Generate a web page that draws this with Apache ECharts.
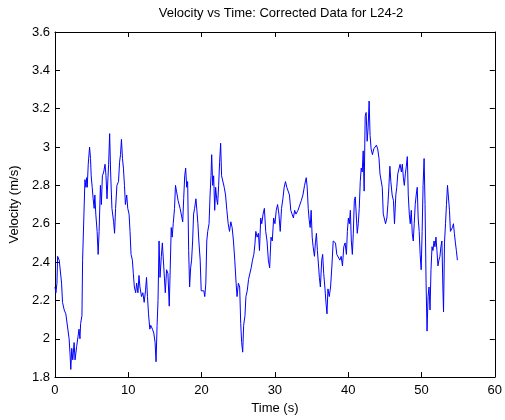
<!DOCTYPE html>
<html>
<head>
<meta charset="utf-8">
<script src="https://cdn.jsdelivr.net/npm/echarts@6/dist/echarts.min.js"></script>
<style>
  html, body { margin: 0; padding: 0; background: #fff; }
  #chart { width: 505px; height: 420px; }
</style>
</head>
<body>
<div id="chart"></div>
<script>
// time (s) and corrected velocity (m/s)
var timeS = [
  0.00, 0.13, 0.27, 0.36, 0.58, 0.81, 0.90, 1.03, 1.17, 1.26, 1.48, 1.71, 1.93, 2.07, 2.16, 2.29, 2.43, 2.61, 2.74, 2.96,
  3.14, 3.28, 3.41, 3.50, 3.68, 3.77, 3.95, 4.09, 4.22, 4.31, 4.40, 4.54, 4.72, 4.85, 4.94, 5.08, 5.21, 5.35, 5.44, 5.57,
  5.75, 5.89, 6.02, 6.20, 6.33, 6.47, 6.65, 6.83, 6.96, 7.10, 7.23, 7.32, 7.46, 7.59, 7.77, 8.00, 8.13, 8.27, 8.45, 8.67,
  8.81, 8.94, 9.07, 9.21, 9.34, 9.48, 9.61, 9.79, 9.93, 10.11, 10.24, 10.38, 10.56, 10.69, 10.83, 11.01, 11.14, 11.32, 11.46, 11.59,
  11.81, 11.99, 12.17, 12.35, 12.49, 12.62, 12.76, 12.94, 13.07, 13.30, 13.48, 13.66, 13.79, 13.93, 14.06, 14.20, 14.33, 14.51, 14.65, 14.87,
  15.05, 15.23, 15.41, 15.59, 15.72, 15.86, 15.99, 16.13, 16.31, 16.44, 16.58, 16.80, 16.89, 17.07, 17.25, 17.43, 17.56, 17.70, 17.83, 17.97,
  18.10, 18.24, 18.37, 18.51, 18.64, 18.78, 18.91, 19.05, 19.23, 19.36, 19.50, 19.63, 19.81, 19.95, 20.13, 20.31, 20.44, 20.58, 20.71, 20.84,
  21.02, 21.16, 21.29, 21.38, 21.52, 21.65, 21.79, 21.92, 22.06, 22.19, 22.33, 22.46, 22.60, 22.73, 22.91, 23.09, 23.27, 23.45, 23.63, 23.81,
  23.99, 24.17, 24.35, 24.53, 24.71, 24.84, 25.02, 25.20, 25.34, 25.47, 25.61, 25.74, 25.92, 26.05, 26.23, 26.41, 26.59, 26.77, 26.95, 27.13,
  27.27, 27.40, 27.58, 27.76, 27.90, 28.07, 28.21, 28.39, 28.57, 28.75, 28.93, 29.11, 29.29, 29.47, 29.65, 29.83, 30.01, 30.19, 30.37, 30.55,
  30.73, 30.91, 31.09, 31.27, 31.45, 31.63, 31.81, 31.99, 32.17, 32.35, 32.53, 32.70, 32.88, 33.15, 33.42, 33.60, 33.83, 34.05, 34.28, 34.41,
  34.55, 34.68, 34.82, 34.95, 35.09, 35.22, 35.40, 35.53, 35.67, 35.80, 35.94, 36.07, 36.21, 36.39, 36.52, 36.66, 36.84, 36.97, 37.11, 37.24,
  37.42, 37.60, 37.78, 37.96, 38.10, 38.27, 38.45, 38.63, 38.86, 39.04, 39.22, 39.40, 39.58, 39.76, 39.89, 40.03, 40.16, 40.30, 40.43, 40.57,
  40.70, 40.84, 40.97, 41.11, 41.24, 41.38, 41.51, 41.65, 41.78, 41.92, 42.05, 42.18, 42.32, 42.45, 42.59, 42.72, 42.86, 42.99, 43.13, 43.31,
  43.49, 43.67, 43.85, 44.03, 44.21, 44.34, 44.52, 44.65, 44.79, 44.92, 45.10, 45.28, 45.42, 45.55, 45.69, 45.82, 46.00, 46.18, 46.32, 46.50,
  46.63, 46.77, 46.90, 47.08, 47.26, 47.39, 47.53, 47.66, 47.80, 47.93, 48.07, 48.20, 48.34, 48.47, 48.61, 48.74, 48.88, 49.01, 49.15, 49.28,
  49.42, 49.55, 49.69, 49.82, 49.96, 50.09, 50.22, 50.36, 50.49, 50.63, 50.76, 50.90, 51.03, 51.17, 51.30, 51.44, 51.57, 51.71, 51.84, 51.98,
  52.11, 52.25, 52.38, 52.52, 52.65, 52.79, 52.92, 53.01, 53.14, 53.28, 53.41, 53.55, 53.68, 53.82, 53.95, 54.09, 54.22, 54.36, 54.49, 54.63,
  54.76, 54.90
];
var velocity = [
  2.27, 2.24, 2.29, 2.43, 2.41, 2.42, 2.29, 2.19, 2.20, 2.15, 2.13, 2.12, 2.00, 1.91, 1.84, 1.95, 1.89, 1.98, 1.89, 1.96,
  2.01, 2.05, 2.00, 2.08, 2.12, 2.41, 2.65, 2.83, 2.79, 2.84, 2.79, 2.91, 3.00, 2.94, 2.85, 2.79, 2.73, 2.68, 2.75, 2.65,
  2.56, 2.44, 2.56, 2.80, 2.70, 2.85, 2.87, 2.91, 2.85, 2.73, 2.84, 2.91, 3.07, 2.87, 2.68, 2.61, 2.55, 2.68, 2.80, 2.82,
  2.92, 2.96, 3.04, 2.94, 2.89, 2.80, 2.70, 2.75, 2.68, 2.65, 2.56, 2.44, 2.41, 2.34, 2.27, 2.24, 2.29, 2.24, 2.33, 2.27,
  2.22, 2.24, 2.19, 2.25, 2.32, 2.22, 2.13, 2.05, 2.07, 2.05, 2.03, 1.98, 1.88, 2.07, 2.20, 2.51, 2.32, 2.43, 2.50, 2.49,
  2.24, 2.36, 2.34, 2.17, 2.36, 2.58, 2.53, 2.60, 2.68, 2.80, 2.77, 2.72, 2.72, 2.68, 2.67, 2.61, 2.73, 2.85, 2.89, 2.79,
  2.82, 2.46, 2.27, 2.37, 2.41, 2.51, 2.65, 2.68, 2.73, 2.67, 2.60, 2.51, 2.41, 2.25, 2.24, 2.25, 2.22, 2.29, 2.51, 2.56,
  2.60, 2.75, 2.85, 2.96, 2.80, 2.85, 2.67, 2.79, 2.73, 2.70, 2.80, 2.92, 3.02, 2.85, 2.84, 2.79, 2.75, 2.67, 2.60, 2.56,
  2.61, 2.58, 2.51, 2.41, 2.29, 2.22, 2.29, 2.27, 2.08, 1.98, 1.93, 2.07, 2.12, 2.22, 2.25, 2.31, 2.32, 2.37, 2.41, 2.44,
  2.49, 2.56, 2.53, 2.55, 2.46, 2.63, 2.60, 2.65, 2.68, 2.56, 2.51, 2.41, 2.37, 2.53, 2.51, 2.63, 2.60, 2.67, 2.70, 2.65,
  2.56, 2.68, 2.73, 2.79, 2.82, 2.79, 2.80, 2.75, 2.67, 2.65, 2.63, 2.67, 2.65, 2.67, 2.68, 2.72, 2.75, 2.80, 2.84, 2.79,
  2.68, 2.62, 2.58, 2.67, 2.53, 2.48, 2.43, 2.50, 2.55, 2.46, 2.39, 2.32, 2.27, 2.41, 2.44, 2.34, 2.26, 2.19, 2.13, 2.26,
  2.22, 2.27, 2.38, 2.51, 2.51, 2.50, 2.44, 2.43, 2.41, 2.43, 2.38, 2.48, 2.50, 2.44, 2.56, 2.63, 2.60, 2.67, 2.51, 2.44,
  2.55, 2.72, 2.74, 2.75, 2.55, 2.60, 2.68, 2.82, 2.89, 2.87, 2.98, 2.77, 3.16, 3.18, 3.03, 3.10, 3.24, 3.06, 2.99, 2.96,
  2.99, 3.00, 3.01, 2.99, 2.94, 2.86, 2.85, 2.79, 2.65, 2.63, 2.60, 2.63, 2.70, 2.79, 2.90, 2.82, 2.75, 2.72, 2.60, 2.75,
  2.79, 2.86, 2.86, 2.91, 2.87, 2.91, 2.84, 2.80, 2.86, 2.90, 2.95, 2.75, 2.65, 2.60, 2.67, 2.55, 2.51, 2.60, 2.70, 2.75,
  2.79, 2.63, 2.56, 2.44, 2.36, 2.56, 2.80, 2.94, 2.70, 2.29, 2.04, 2.22, 2.27, 2.15, 2.36, 2.48, 2.46, 2.51, 2.48, 2.53,
  2.46, 2.38, 2.41, 2.43, 2.48, 2.51, 2.27, 2.14, 2.50, 2.60, 2.70, 2.80, 2.79, 2.67, 2.56, 2.55, 2.58, 2.60, 2.55, 2.50,
  2.46, 2.41
];
var xTicks = [0, 60, 10];
var yTicks = [1.8, 3.6, 0.2];

var font = "'Liberation Sans', Arial, sans-serif";
var points = [];
for (var i = 0; i < timeS.length; i++) {
  points.push([timeS[i], velocity[i]]);
}

var frameAxis = function (extra) {
  var base = {
    type: "value",
    axisLine: { show: true, onZero: false, lineStyle: { color: "#000", width: 1 } },
    axisTick: { show: true, inside: true, length: 5, lineStyle: { color: "#000" } },
    splitLine: { show: false },
    axisLabel: { color: "#000", fontFamily: font, fontSize: 13 }
  };
  for (var k in extra) base[k] = extra[k];
  return base;
};

var myChart = echarts.init(document.getElementById("chart"));
myChart.setOption({
  animation: false,
  backgroundColor: "#fff",
  title: {
    text: "Velocity vs Time: Corrected Data for L24-2",
    left: 276,
    textAlign: "center",
    top: 2,
    textStyle: { fontFamily: font, fontSize: 13, fontWeight: "normal", color: "#000" }
  },
  grid: { left: 54, right: 6, top: 32, bottom: 38 },
  xAxis: [
    frameAxis({
      min: xTicks[0], max: xTicks[1], interval: xTicks[2],
      position: "bottom",
      name: "Time (s)", nameLocation: "middle", nameGap: 22,
      nameTextStyle: { fontFamily: font, fontSize: 13, color: "#000" },
      axisLabel: { color: "#000", fontFamily: font, fontSize: 13, margin: 7 }
    }),
    frameAxis({
      min: xTicks[0], max: xTicks[1], interval: xTicks[2],
      position: "top",
      axisLabel: { show: false }
    })
  ],
  yAxis: [
    frameAxis({
      min: yTicks[0], max: yTicks[1], interval: yTicks[2],
      position: "left",
      name: "Velocity (m/s)", nameLocation: "middle", nameGap: 29,
      nameTextStyle: { fontFamily: font, fontSize: 13, color: "#000" },
      axisLabel: {
        color: "#000", fontFamily: font, fontSize: 13, margin: 5,
        formatter: function (v) { return +v.toFixed(1) + ""; }
      }
    }),
    frameAxis({
      min: yTicks[0], max: yTicks[1], interval: yTicks[2],
      position: "right",
      axisLabel: { show: false }
    })
  ],
  series: [
    {
      type: "line",
      data: points,
      showSymbol: false,
      lineStyle: { color: "#0000ff", width: 1 },
      itemStyle: { color: "#0000ff" }
    }
  ]
});
</script>
</body>
</html>
